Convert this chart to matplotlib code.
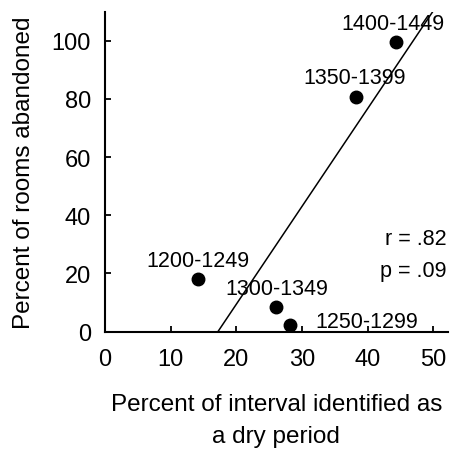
import numpy as np
import matplotlib
matplotlib.use("Agg")
import matplotlib.pyplot as plt

plt.rcParams['font.family'] = ['Liberation Sans', 'DejaVu Sans']

# Drought coverage vs. room abandonment by interval
periods = ["1200-1249", "1250-1299", "1300-1349", "1350-1399", "1400-1449"]
dry_pct = [14.2, 28.2, 26.0, 38.2, 44.3]
abandoned_pct = [18.1, 2.4, 8.5, 80.7, 99.4]

# Fitted trend line
fit_slope = 3.36
fit_intercept = -57.8

x_ticks = [0, 10, 20, 30, 40, 50]
y_ticks = [0, 20, 40, 60, 80, 100]
r_text = "r = .82"
p_text = "p = .09"

fig = plt.figure(figsize=(4.53, 4.52), dpi=100)
ax = fig.add_axes([0.2318, 0.264, 0.7562, 0.708])

ax.plot(dry_pct, abandoned_pct, linestyle="none", marker="o",
        markersize=9, color="black")

y_top = 110
x0 = (0 - fit_intercept) / fit_slope
x1 = (y_top - fit_intercept) / fit_slope
ax.plot([x0, x1], [fit_slope * x0 + fit_intercept, fit_slope * x1 + fit_intercept],
        color="black", linewidth=1.1)

# Period labels: (dx, dy) offsets in points from each marker, baseline anchored
label_offsets = {
    "1200-1249": (0, 9.5, "center"),
    "1250-1299": (18.5, -1.5, "left"),
    "1300-1349": (0.5, 9, "center"),
    "1350-1399": (-0.5, 10, "center"),
    "1400-1449": (-2, 10, "center"),
}
for name, x, y in zip(periods, dry_pct, abandoned_pct):
    dx, dy, ha = label_offsets[name]
    ax.annotate(name, (x, y), xytext=(dx, dy), textcoords="offset points",
                ha=ha, va="baseline", fontsize=15.5)

ax.text(0.998, 0.275, r_text, transform=ax.transAxes, ha="right",
        va="baseline", fontsize=15.5)
ax.text(0.998, 0.175, p_text, transform=ax.transAxes, ha="right",
        va="baseline", fontsize=15.5)

ax.set_xlim(0, 52.2)
ax.set_ylim(0, y_top)
ax.set_xticks(x_ticks)
ax.set_yticks(y_ticks)
ax.tick_params(direction="in", length=4, width=1.3, labelsize=17)
ax.tick_params(axis="x", pad=12)
ax.tick_params(axis="y", pad=10)
for side in ("top", "right"):
    ax.spines[side].set_visible(False)
for side in ("left", "bottom"):
    ax.spines[side].set_linewidth(1.5)

ax.set_xlabel("Percent of interval identified as\na dry period", fontsize=17.5,
              labelpad=16, linespacing=1.6)
ax.set_ylabel("Percent of rooms abandoned", fontsize=17.5, labelpad=12)

fig.savefig("out.png", dpi=100)
